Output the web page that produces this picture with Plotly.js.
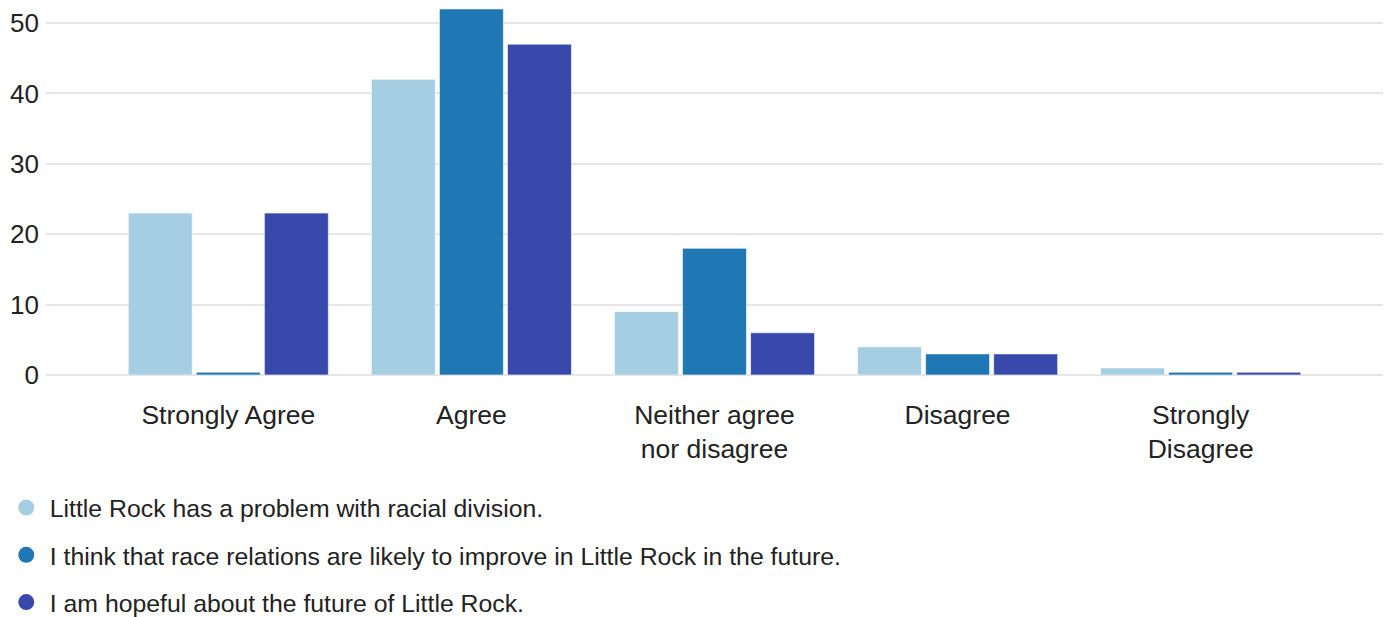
<!DOCTYPE html>
<html><head><meta charset="utf-8">
<script src="https://cdn.plot.ly/plotly-3.0.1.min.js"></script>
<style>html,body{margin:0;padding:0;background:#fff}#chart{width:1387px;height:617px}</style>
</head><body><div id="chart"></div>
<script>
const categories = ["Strongly Agree", "Agree", "Neither agree<br>nor disagree", "Disagree", "Strongly<br>Disagree"];
const seriesNames = [
  "Little Rock has a problem with racial division.",
  "I think that race relations are likely to improve in Little Rock in the future.",
  "I am hopeful about the future of Little Rock."
];
const problemValues = [23, 42, 9, 4, 1];
const improveValues = [0, 52, 18, 3, 0];
const hopefulValues = [23, 47, 6, 3, 0];
const colors = ["#a6cee3", "#1f78b4", "#3949ab"];
const yTicks = [0, 10, 20, 30, 40, 50];

const minStub = 0.4; // zero answers drawn as a thin stub, as in the original
const allValues = [problemValues, improveValues, hopefulValues];
const traces = [];
allValues.forEach((vals, i) => {
  traces.push({
    type: "bar", x: categories, y: vals.map(v => Math.max(v, minStub)),
    customdata: vals, hovertemplate: "%{x}: %{customdata}<extra></extra>",
    name: seriesNames[i], showlegend: false,
    marker: {color: colors[i], line: {color: "rgba(255,255,255,0.6)", width: 1}}
  });
});
seriesNames.forEach((n, i) => {
  traces.push({
    type: "scatter", mode: "markers", x: [null], y: [null], name: n,
    legendgroup: "g" + i, hoverinfo: "skip",
    marker: {color: colors[i], size: 22, symbol: "circle"}
  });
});

const layout = {
  width: 1387, height: 617,
  margin: {l: 46, r: 4, t: 5, b: 242, autoexpand: false},
  paper_bgcolor: "#fff", plot_bgcolor: "#fff",
  font: {family: "Liberation Sans, Arial, sans-serif", size: 24, color: "#222"},
  barmode: "group", bargap: 0.16, bargroupgap: 0.06,
  xaxis: {
    type: "category", range: [-0.75, 4.75], showgrid: false, zeroline: false,
    showline: false, ticks: "", ticklabelstandoff: 21,
    tickfont: {size: 26.5, color: "#222"}
  },
  yaxis: {
    range: [0, 52.56], tickvals: yTicks, showgrid: true, gridcolor: "#e6e6e6", gridwidth: 2,
    zeroline: true, zerolinecolor: "#e6e6e6", zerolinewidth: 2, showline: false,
    ticks: "", ticklabelstandoff: 6, tickfont: {size: 26, color: "#222"}
  },
  showlegend: true,
  legend: {
    orientation: "v", xref: "container", yref: "container",
    x: 0.002, xanchor: "left", y: 0.214, yanchor: "top",
    font: {size: 24.8, color: "#222"}, tracegroupgap: 12, itemsizing: "trace",
    itemwidth: 37, bgcolor: "rgba(0,0,0,0)"
  }
};
Plotly.newPlot("chart", traces, layout, {displayModeBar: false, staticPlot: true});
</script></body></html>
